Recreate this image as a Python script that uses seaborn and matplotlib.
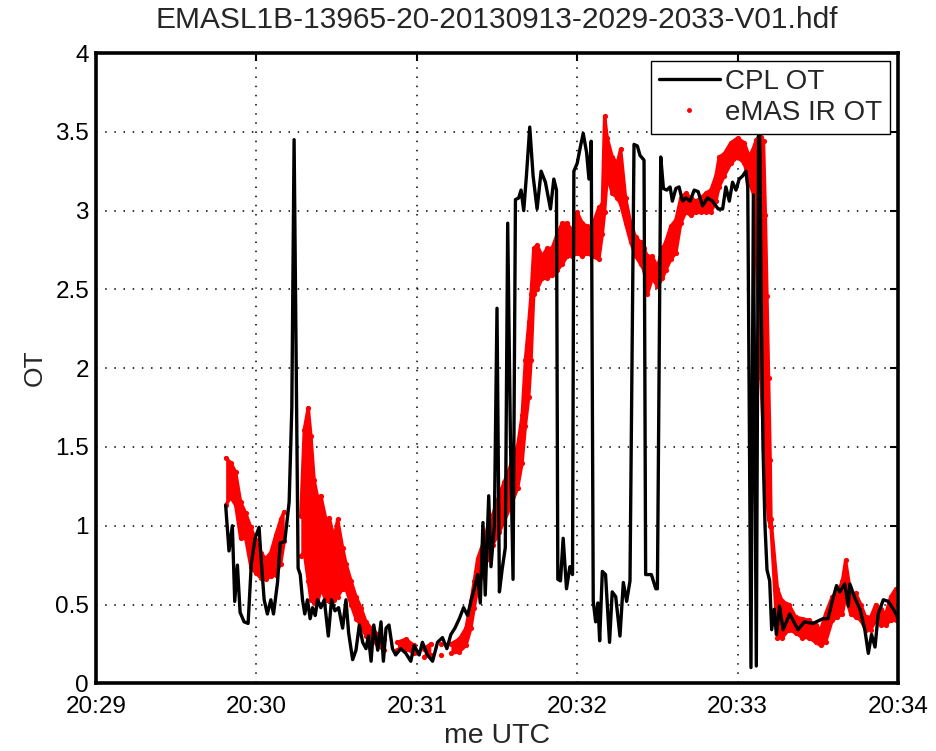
import numpy as np
import pandas as pd
import matplotlib
matplotlib.use("Agg")
import matplotlib.pyplot as plt
from matplotlib.lines import Line2D
import seaborn as sns

# ---------------- data (time in seconds after 20:29:00 UTC) ----------------
cpl_time = [48.5, 49.75, 51, 51.9, 52.9, 53.9, 55.4, 56.9, 58.1, 59.5, 61, 61.6, 62.9, 64.1,
            65.4, 66.4, 67.9, 68.9, 70.6, 72.25, 73.25, 74.1, 74.9, 75.6, 76.4, 77.25, 78.1,
            79.1, 80.1, 81, 82, 82.9, 84.1, 85.4, 86.9, 88.1, 89.4, 90.75, 92.25, 93.5, 94.5,
            96, 97.25, 98.5, 99.75, 101, 101.9, 102.9, 103.9, 105.4, 106.6, 107.5, 108.5,
            109.6, 110.9, 112.1, 114, 115.9, 117.75, 119, 120.9, 122.1, 124, 125.9, 127.75,
            129.6, 131.25, 132.75, 134.25, 135.9, 137.5, 139, 140.25, 141.5, 142.75, 143.75,
            144.75, 145.6, 146.9, 147.75, 149, 150, 150.9, 151.9, 153.1, 154, 155, 156, 156.9,
            158.1, 159, 160, 161, 162.25, 163.5, 165, 166.5, 168.1, 170, 171.25, 172.25,
            172.75, 173.75, 174.75, 176, 177.25, 178.25, 178.75, 180, 181.25, 182.25, 183.5,
            184.4, 185.25, 186, 186.9, 187.75, 188.4, 189.4, 190.6, 192.1, 193.1, 194.4, 196,
            197.25, 198.5, 199.75, 201.25, 202.5, 203.5, 205, 205.6, 207.75, 209.4, 210,
            211.25, 212.25, 213.5, 214.75, 215.6, 216.9, 218.1, 219.4, 220.6, 222.25, 223.75,
            225.25, 226.9, 228.75, 230.6, 232.75, 234.4, 235.6, 236.9, 238.1, 239.4, 240.6,
            241.9, 243.1, 243.8, 245.0, 245.9, 247.0, 247.9, 248.4, 248.75, 249.5, 250.25,
            251, 252, 252.75, 253.7, 254.5, 255.7, 257, 259.5, 262.6, 265, 268.2, 271.9,
            273.8, 275.7, 277, 278.2, 280.1, 281.4, 282, 283.9, 285.8, 287.6, 288.9, 290.1,
            291.4, 292.6, 294.5, 296.4, 298.3, 300.8]
cpl_ot = [1.13, 0.84, 1.00, 0.52, 0.75, 0.45, 0.39, 0.38, 0.76, 0.92, 0.99, 0.83, 0.53, 0.44,
          0.53, 0.44, 0.64, 0.89, 0.90, 1.15, 1.75, 3.45, 1.98, 0.73, 0.69, 0.53, 0.44,
          0.53, 0.41, 0.48, 0.43, 0.53, 0.48, 0.53, 0.30, 0.53, 0.46, 0.48, 0.35, 0.53, 0.32,
          0.15, 0.21, 0.37, 0.26, 0.22, 0.30, 0.14, 0.37, 0.21, 0.39, 0.14, 0.35,
          0.37, 0.22, 0.18, 0.22, 0.19, 0.14, 0.24, 0.18, 0.26, 0.18, 0.14, 0.26,
          0.29, 0.22, 0.31, 0.35, 0.41, 0.48, 0.43, 0.52, 0.60, 0.69, 0.51,
          1.02, 0.56, 1.19, 0.74, 1.00, 2.38, 0.58, 0.72, 0.86, 2.92, 1.58, 0.66, 3.07,
          3.08, 3.13, 3.00, 3.22, 3.53, 3.22, 3.01, 3.25, 3.18, 3.01, 3.20, 3.13,
          0.66, 0.65, 0.92, 0.60, 0.74, 0.69, 3.25, 3.30, 3.41, 3.49, 3.37,
          3.20, 3.44, 0.52, 0.39, 0.51, 0.27, 0.71, 0.69, 0.26, 0.58, 0.55, 0.30,
          0.64, 0.52, 0.65, 3.42, 3.41, 3.35, 3.32, 0.69, 0.69, 0.60, 0.60,
          3.34, 3.14, 3.13, 3.15, 3.06, 3.14, 3.15, 3.06, 3.08, 3.06, 3.13,
          3.12, 3.03, 3.08, 3.06, 3.01, 3.01, 3.15, 3.06, 3.18, 3.13, 3.20,
          3.22, 3.25, 3.15, 0.10, 3.10, 0.11, 3.70, 3.30, 2.55, 1.50, 1.00,
          0.72, 0.65, 0.34, 0.47, 0.31, 0.49, 0.34, 0.44, 0.34, 0.39, 0.38, 0.41,
          0.41, 0.54, 0.62, 0.58, 0.63, 0.49, 0.63, 0.54, 0.47, 0.34, 0.19, 0.31,
          0.23, 0.44, 0.53, 0.52, 0.47, 0.39]

emas_time = [48.5, 50.4, 52.25, 54.1, 56, 57.9, 59.75, 61.6, 63.5, 65.4, 67.25, 69.1, 70.4,
             76.6, 77.9, 79.4, 80.4, 81.6, 82.9, 84.1, 86, 87.25, 89.1, 90.4, 92.25, 93.5,
             95.4, 97.25, 99.1, 101, 102.9, 105.4, 107.75, 112.75, 115.9, 119, 122.75,
             125.25, 129, 132.75, 135.9, 138.4, 140.25, 141.5, 142.75, 144.6, 146.5, 148.4,
             150.9, 152.75, 155.25, 157.75, 159.4, 160.6, 161.9, 162.75, 163.75, 165, 166.9,
             168.75, 170.6, 172.5, 174.4, 176.25, 178.1, 180, 181.9, 183.75, 185.6, 188.1,
             189.4, 190.25, 191.25, 193.1, 195, 196.25, 198.1, 200, 201.9, 203.75, 205,
             206.25, 208.1, 210, 211.9, 213.1, 215, 216.9, 218.75, 220.6, 222.5, 224.4,
             226.25, 228.1, 230, 231.9, 233.1, 235, 237.5, 240, 242.5, 244.4, 246, 247,
             247.9, 248.7, 249.7, 250.4, 251, 251.6, 252.2, 252.5,
             254.9, 256.7, 259.2, 261.7, 264.2, 266.7, 269.2, 271.1, 272.9, 275.4, 277.3,
             279.2, 280.4, 282.3, 284.2, 286.1, 287.9, 289.8, 291.7, 293.6, 295.4, 297.3,
             299.2]
emas_lo = [1.13, 1.18, 1.13, 0.92, 0.92, 0.74, 0.70, 0.67, 0.66, 0.68, 0.69, 0.76, 0.90,
           0.81, 0.83, 0.65, 0.53, 0.51, 0.51, 0.60, 0.53, 0.52, 0.53, 0.55, 0.60, 0.60,
           0.50, 0.41, 0.37, 0.30, 0.28, 0.24, 0.21, 0.21, 0.22, 0.19, 0.17,
           0.18, 0.18, 0.19, 0.20, 0.24, 0.35, 0.48, 0.60, 0.69, 0.79, 0.88,
           0.96, 1.03, 1.13, 1.24, 1.40, 1.63, 1.82, 2.05, 2.47, 2.50, 2.57,
           2.57, 2.59, 2.62, 2.66, 2.71, 2.71, 2.73, 2.71, 2.73, 2.71, 2.69,
           2.85, 2.99, 3.22, 3.11, 3.08, 3.04, 2.92, 2.80, 2.71, 2.66, 2.62,
           2.47, 2.57, 2.52, 2.57, 2.62, 2.69, 2.73, 2.92, 2.99, 2.97, 2.99,
           2.99, 2.99, 2.99, 3.06, 3.15, 3.22, 3.30, 3.34, 3.30, 3.18, 3.10, 2.72,
           2.33, 1.94, 1.55, 1.30, 1.17, 1.04, 1.00, 0.99,
           0.29, 0.29, 0.34, 0.32, 0.29, 0.29, 0.26, 0.24, 0.26, 0.40, 0.42,
           0.44, 0.55, 0.44, 0.42, 0.40, 0.34, 0.34, 0.40, 0.37, 0.37, 0.40,
           0.40]
emas_hi = [1.43, 1.40, 1.34, 1.15, 1.08, 0.99, 0.91, 0.83, 0.79, 0.83, 0.94, 1.04, 1.09,
           1.06, 1.61, 1.75, 1.57, 1.29, 1.18, 1.19, 1.04, 1.05, 0.92, 1.04, 0.86, 0.76,
           0.65, 0.55, 0.48, 0.39, 0.35, 0.31, 0.28, 0.26, 0.28, 0.24, 0.22,
           0.25, 0.25, 0.25, 0.28, 0.35, 0.52, 0.65, 0.79, 0.88, 0.99, 1.07,
           1.20, 1.28, 1.39, 1.51, 1.70, 2.05, 2.29, 2.47, 2.76, 2.78, 2.71,
           2.76, 2.76, 2.85, 2.92, 2.92, 2.87, 2.99, 2.92, 2.90, 2.90, 3.02,
           3.04, 3.60, 3.46, 3.34, 3.30, 3.39, 3.08, 2.92, 2.83, 2.80, 2.76,
           2.71, 2.71, 2.64, 2.76, 2.80, 2.90, 2.94, 3.08, 3.11, 3.08, 3.06,
           3.08, 3.11, 3.13, 3.22, 3.34, 3.36, 3.43, 3.46, 3.43, 3.34, 3.40, 3.45,
           3.47, 3.47, 3.44, 2.97, 2.46, 1.94, 1.42, 1.04,
           0.60, 0.52, 0.50, 0.42, 0.41, 0.40, 0.37, 0.34, 0.44, 0.55, 0.57,
           0.65, 0.78, 0.57, 0.57, 0.50, 0.42, 0.42, 0.50, 0.47, 0.44, 0.55,
           0.60]

tick_times = [0, 60, 120, 180, 240, 300]
tick_labels = ["20:29", "20:30", "20:31", "20:32", "20:33", "20:34"]
ot_ticks = [0, 0.5, 1, 1.5, 2, 2.5, 3, 3.5, 4]
ot_labels = ["0", "0.5", "1", "1.5", "2", "2.5", "3", "3.5", "4"]
title = "EMASL1B-13965-20-20130913-2029-2033-V01.hdf"

# ---------------- style ----------------
sns.set_style("white")
plt.rcParams["font.family"] = ["Liberation Sans", "DejaVu Sans"]
plt.rcParams["font.size"] = 17

cpl = pd.DataFrame({"time": cpl_time, "OT": cpl_ot})
emas = pd.DataFrame({"time": emas_time, "lo": emas_lo, "hi": emas_hi})
emas["seg"] = (emas["time"].diff() > 3.5).cumsum()

fig = plt.figure(figsize=(9.36, 7.51), dpi=100)
ax = fig.add_axes([96 / 936, 1 - 683.3 / 751, (898 - 96) / 936, (683.3 - 53) / 751])

RED = "#ff0000"
for _, g in emas.groupby("seg"):
    ax.fill_between(g["time"], g["lo"], g["hi"], color=RED, lw=0, zorder=2)
    sns.lineplot(data=g, x="time", y="lo", ax=ax, color=RED, lw=2.4, zorder=2,
                 estimator=None, sort=False)
    sns.lineplot(data=g, x="time", y="hi", ax=ax, color=RED, lw=2.4, zorder=2,
                 estimator=None, sort=False)
pts = pd.concat([emas[["time", "lo"]].rename(columns={"lo": "v"}),
                 emas[["time", "hi"]].rename(columns={"hi": "v"})])
sns.scatterplot(data=pts, x="time", y="v", ax=ax, color=RED, s=14, linewidth=0,
                zorder=2, legend=False)

sns.lineplot(data=cpl, x="time", y="OT", ax=ax, color="black", lw=2.4, zorder=3,
             estimator=None, sort=False)

ax.set_xlim(0, 300)
ax.set_ylim(0, 4)
ax.set_xticks(tick_times)
ax.set_xticklabels(tick_labels)
ax.set_yticks(ot_ticks)
ax.set_yticklabels(ot_labels)
ax.grid(True, color="black", linestyle=(0, (1, 5)), lw=1.1)
ax.set_axisbelow(True)
ax.tick_params(direction="in", length=6, width=1.5, top=True, right=True,
               labelsize=17.5, color="black", labelcolor="black")
ax.tick_params(axis="x", pad=9.5)
ax.tick_params(axis="y", pad=5)
for sp in ax.spines.values():
    sp.set_visible(True)
    sp.set_color("black")
    sp.set_linewidth(2.6)

ax.set_xlabel("me UTC", fontsize=20.5, labelpad=3)
ax.set_ylabel("OT", fontsize=19, labelpad=6)
ax.set_title(title, fontsize=21.5, pad=18)

handles = [Line2D([], [], color="black", lw=2.4),
           Line2D([], [], color=RED, marker=".", markersize=5, linestyle="none")]
leg = ax.legend(handles, ["CPL OT", "eMAS IR OT"], loc="upper right", fontsize=20,
                frameon=True, fancybox=False, framealpha=1, edgecolor="black",
                borderpad=0.28, labelspacing=0.2, handlelength=2.2, handletextpad=0.2,
                borderaxespad=0.28)
leg.get_frame().set_linewidth(1.0)
leg.set_zorder(10)

fig.savefig("out.png", dpi=100)
